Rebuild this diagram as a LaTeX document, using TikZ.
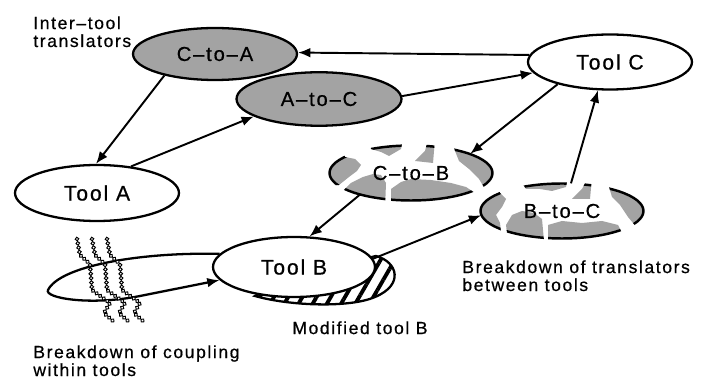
\documentclass[tikz,border=0pt]{standalone}
\usepackage{fontspec}
\setmainfont{Liberation Sans}[LetterSpace=9, FakeBold=0.6]
\usepackage{tikz}
\usetikzlibrary{shapes.geometric, arrows.meta, patterns.meta, decorations.markings}
\definecolor{xlgray}{gray}{0.64}

% one piece of a cracked translator: clip the shaded ellipse to a polygon
\newcommand{\shard}[1]{%
  \begin{scope}
    \clip #1 -- cycle;
    \fill[xlgray] (0,0) ellipse [x radius=1.63cm, y radius=0.55cm];
    \draw[line width=1.4pt] (0,0) ellipse [x radius=1.63cm, y radius=0.55cm];
  \end{scope}}

\begin{document}
\begin{tikzpicture}[x=0.02cm, y=-0.02cm,
    toolbox/.style={ellipse, draw, fill=white, line width=1.3pt, inner sep=0pt, font=\fontsize{12}{14}\selectfont},
    xlbox/.style={ellipse, draw, fill=xlgray, line width=1.3pt, inner sep=0pt, font=\fontsize{11.5}{13}\selectfont},
    brokenbox/.style={ellipse, inner sep=0pt, minimum width=3.26cm, minimum height=1.1cm, font=\fontsize{11.5}{13}\selectfont},
    lbl/.style={font=\fontsize{10}{10.2}\selectfont, align=left, inner sep=0pt, anchor=north west},
    arr/.style={-{Latex[length=7pt,width=5.5pt]}, line width=1.1pt},
    hatchfill/.style={pattern={Lines[angle=60,distance=7pt,line width=2.2pt]}, line width=1.3pt},
    beads/.style={postaction={decorate}, decoration={markings,
        mark=between positions 0 and 1 step 2.5pt with {\filldraw[fill=white, line width=0.55pt] (0,0) circle (1.05pt);}}}
  ]
  \path[use as bounding box, fill=white] (0,0) rectangle (701,378);

  % hatched rim of the modified tool B
  \draw[hatchfill] (376,256) .. controls (398,262) and (404,285) .. (375,297)
    .. controls (350,308) and (290,306) .. (255,296) -- (294,275) -- cycle;

  \node[xlbox, minimum width=3.28cm, minimum height=1.04cm] (ctoa) at (215,54) {C–to–A};
  \node[xlbox, minimum width=3.3cm, minimum height=1.07cm] (atoc) at (319,99) {A–to–C};
  \node[toolbox, minimum width=3.28cm, minimum height=1.12cm] (toolA) at (97,193) {Tool A};
  \node[toolbox, minimum width=3.24cm, minimum height=1.2cm] (toolB) at (294,267) {Tool B};
  \node[toolbox, minimum width=3.28cm, minimum height=1.1cm] (toolC) at (610,62) {Tool C};

  % broken translators
  \coordinate (ctobc) at (411,173);
  \coordinate (btocc) at (562,211);
  \begin{scope}[shift={(ctobc)}]
    \shard{(-95,-30) -- (-70,-30) -- (-66,-16) -- (-56,-14) -- (-50,-8) -- (-54,-2) -- (-62,4) -- (-72,12) -- (-95,14)}
    \shard{(-42,-34) -- (-8,-34) -- (-10,-24) -- (-22,-17) -- (-30,-21) -- (-40,-24)}
    \shard{(4,-12) -- (14,-22) -- (17,-34) -- (24,-34) -- (22,-10)}
    \shard{(40,-34) -- (95,-34) -- (95,22) -- (74,16) -- (68,6) -- (58,-4) -- (48,-12) -- (44,-22)}
    \shard{(-72,22) -- (-60,10) -- (-48,4) -- (-38,1) -- (-30,2) -- (-25,10) -- (-26,36) -- (-72,36)}
    \shard{(-20,36) -- (-20,16) -- (-10,9) -- (0,6) -- (20,7) -- (40,10) -- (55,14) -- (64,20) -- (64,36)}
  \end{scope}
  \begin{scope}[shift={(btocc)}]
    \shard{(-95,-30) -- (-66,-30) -- (-62,-18) -- (-56,-12) -- (-60,-4) -- (-66,4) -- (-62,12) -- (-60,30) -- (-95,30)}
    \shard{(-44,-34) -- (6,-34) -- (4,-24) -- (-10,-20) -- (-22,-22) -- (-36,-22)}
    \shard{(10,-12) -- (20,-22) -- (26,-34) -- (30,-34) -- (28,-12)}
    \shard{(44,-34) -- (95,-34) -- (95,24) -- (76,18) -- (66,6) -- (58,-6) -- (50,-14)}
    \shard{(-54,30) -- (-56,14) -- (-50,4) -- (-40,0) -- (-28,2) -- (-20,8) -- (-18,30)}
    \shard{(-14,30) -- (-14,14) -- (0,10) -- (20,12) -- (40,10) -- (56,14) -- (64,30)}
  \end{scope}
  \node[brokenbox] (ctob) at (ctobc) {C–to–B};
  \node[brokenbox] (btoc) at (btocc) {B–to–C};

  % coupling loop inside tool B and its breakdown
  \draw[arr, line width=1.3pt] (toolB.170) .. controls (140,252) and (60,266) .. (48,290)
    .. controls (44,298) and (90,306) .. (140,296) -- (toolB.190);
  \foreach \dx in {0,15,30}
    \path[beads] (77+\dx,239) -- (80+\dx,255) -- (90+\dx,264) -- (92+\dx,290) -- (110+\dx,303) -- (104+\dx,313) -- (113+\dx,321);

  \draw[arr] (toolC.175) -- (ctoa.1);
  \draw[arr] (ctoa.203) -- (toolA.92);
  \draw[arr] (toolA.38) -- (atoc.195);
  \draw[arr] (atoc.2) -- (toolC.188);
  \draw[arr] (toolC.203) -- (ctob.18);
  \draw[arr] (ctob.203) -- (toolB.63);
  \draw[arr] (toolB.6) -- (btoc.183);
  \draw[arr] (btoc.72) -- (toolC.247);

  \node[lbl] (interlbl) at (33,16) {Inter–tool\\translators};
  \node[lbl] (couplelbl) at (33,345) {Breakdown of coupling\\within tools};
  \node[lbl] (modlbl) at (292,321) {Modified tool B};
  \node[lbl] (breaklbl) at (462,260) {Breakdown of translators\\between tools};
\end{tikzpicture}
\end{document}
